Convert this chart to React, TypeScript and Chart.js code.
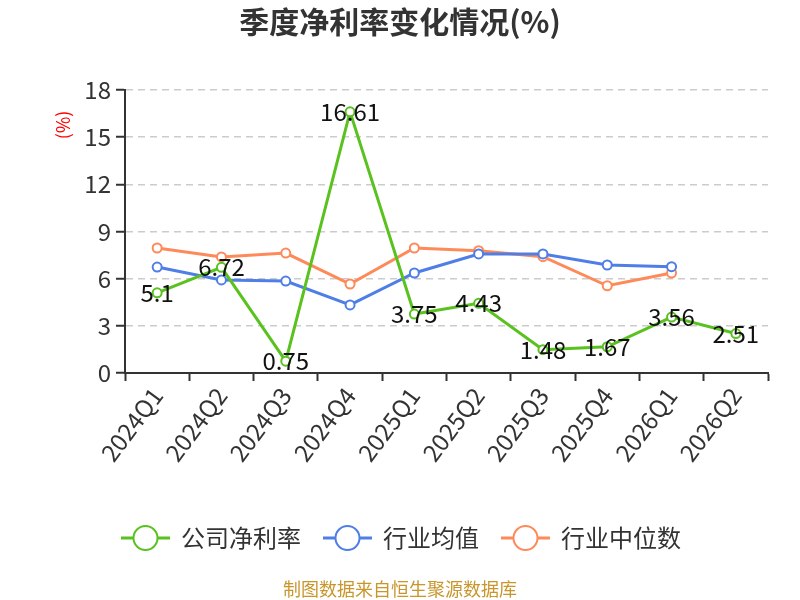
import { useEffect, useRef } from "react";
import { Chart, registerables } from "chart.js";

Chart.register(...registerables);

// ─── Data ─────────────────────────────────────────────────────────────────────
const quarters = ["2024Q1", "2024Q2", "2024Q3", "2024Q4", "2025Q1", "2025Q2", "2025Q3", "2025Q4", "2026Q1", "2026Q2"];
const companyMargin = [5.1, 6.72, 0.75, 16.61, 3.75, 4.43, 1.48, 1.67, 3.56, 2.51];
const industryAvg = [6.74, 5.92, 5.85, 4.33, 6.36, 7.57, 7.57, 6.87, 6.76, null];
const industryMedian = [7.95, 7.38, 7.63, 5.66, 7.95, 7.78, 7.4, 5.55, 6.36, null];
const seriesNames = ["公司净利率", "行业均值", "行业中位数"];
const yTicks = [0, 3, 6, 9, 12, 15, 18];

const COLORS = ["#5ac21f", "#4e7ee6", "#fe8a5a"];
const FONT = "'Noto Sans CJK SC', 'Noto Sans', sans-serif";

// ─── Plugin: title, labels, y-title, legend, source ───────────────────────────
const extrasPlugin = {
  id: "extras",
  afterDatasetsDraw(chart: any) {
    const { ctx } = chart;
    const meta = chart.getDatasetMeta(0);
    ctx.save();
    ctx.font = `24px ${FONT}`;
    ctx.fillStyle = "#111";
    ctx.textAlign = "center";
    ctx.textBaseline = "middle";
    meta.data.forEach((pt: any, i: number) => {
      ctx.fillText(String(companyMargin[i]), pt.x, pt.y);
    });
    ctx.restore();
  },
  afterDraw(chart: any) {
    const { ctx } = chart;
    ctx.save();

    // title
    ctx.font = `bold 30px ${FONT}`;
    ctx.fillStyle = "#333";
    ctx.textAlign = "center";
    ctx.textBaseline = "middle";
    ctx.fillText("季度净利率变化情况(%)", 400, 22);

    // y axis title
    ctx.translate(63, 125);
    ctx.rotate(-Math.PI / 2);
    ctx.font = `18px ${FONT}`;
    ctx.fillStyle = "#ff0000";
    ctx.fillText("(%)", 0, 0);
    ctx.setTransform(chart.currentDevicePixelRatio, 0, 0, chart.currentDevicePixelRatio, 0, 0);

    // legend
    ctx.font = `24px ${FONT}`;
    const lineLen = 49, gapText = 11, gapItem = 22;
    const widths = seriesNames.map((n) => ctx.measureText(n).width);
    const total = widths.reduce((a, w) => a + lineLen + gapText + w, 0) + gapItem * (seriesNames.length - 1);
    let x = 401 - total / 2;
    const y = 538;
    seriesNames.forEach((name, i) => {
      ctx.strokeStyle = COLORS[i];
      ctx.lineWidth = 3;
      ctx.beginPath();
      ctx.moveTo(x, y);
      ctx.lineTo(x + lineLen, y);
      ctx.stroke();
      ctx.beginPath();
      ctx.arc(x + lineLen / 2, y, 12, 0, Math.PI * 2);
      ctx.fillStyle = "#fff";
      ctx.fill();
      ctx.lineWidth = 2;
      ctx.stroke();
      ctx.fillStyle = "#333";
      ctx.textAlign = "left";
      ctx.textBaseline = "middle";
      ctx.fillText(name, x + lineLen + gapText, y);
      x += lineLen + gapText + widths[i] + gapItem;
    });

    // source
    ctx.font = `18px ${FONT}`;
    ctx.fillStyle = "#c9962b";
    ctx.textAlign = "center";
    ctx.fillText("制图数据来自恒生聚源数据库", 400, 589);
    ctx.restore();
  },
};

// ─── Component ────────────────────────────────────────────────────────────────
export default function App() {
  const canvasRef = useRef<HTMLCanvasElement | null>(null);

  useEffect(() => {
    if (!canvasRef.current) return;
    const values = [companyMargin, industryAvg, industryMedian];
    const chart = new Chart(canvasRef.current, {
      type: "line",
      data: {
        labels: quarters,
        datasets: values.map((d, i) => ({
          label: seriesNames[i],
          data: d,
          borderColor: COLORS[i],
          borderWidth: 3,
          pointRadius: 4.5,
          pointBorderWidth: 2,
          pointBackgroundColor: "#fff",
          pointBorderColor: COLORS[i],
          tension: 0,
        })),
      },
      options: {
        animation: false,
        responsive: false,
        layout: { padding: { left: 70, right: 32, top: 90, bottom: 127 } },
        plugins: {
          legend: { display: false },
          tooltip: { enabled: false },
          title: { display: false },
        },
        scales: {
          x: {
            offset: true,
            grid: { offset: true, drawOnChartArea: false, tickLength: 8, tickColor: "#333", tickWidth: 2 },
            border: { color: "#333", width: 2 },
            ticks: { font: { family: FONT, size: 24 }, color: "#333", minRotation: 53, maxRotation: 53, padding: 1 },
            afterFit: (s: any) => { s.height = 100; },
          },
          y: {
            min: 0,
            max: 18,
            afterBuildTicks: (s: any) => { s.ticks = yTicks.map((v) => ({ value: v })); },
            grid: { color: "#cccccc", lineWidth: 1.5, tickColor: "#333", tickLength: 9, tickWidth: 2, tickBorderDash: [] },
            border: { color: "#333", width: 2, dash: [7, 5] },
            ticks: { font: { family: FONT, size: 24 }, color: "#333", padding: 5 },
            afterFit: (s: any) => { s.width = 55; },
          },
        },
      },
      plugins: [extrasPlugin],
    });
    return () => chart.destroy();
  }, []);

  return (
    <div style={{ width: 800, height: 600, margin: 0 }}>
      <style>{`body { margin: 0; }`}</style>
      <canvas ref={canvasRef} width={800} height={600} style={{ display: "block" }} />
    </div>
  );
}
